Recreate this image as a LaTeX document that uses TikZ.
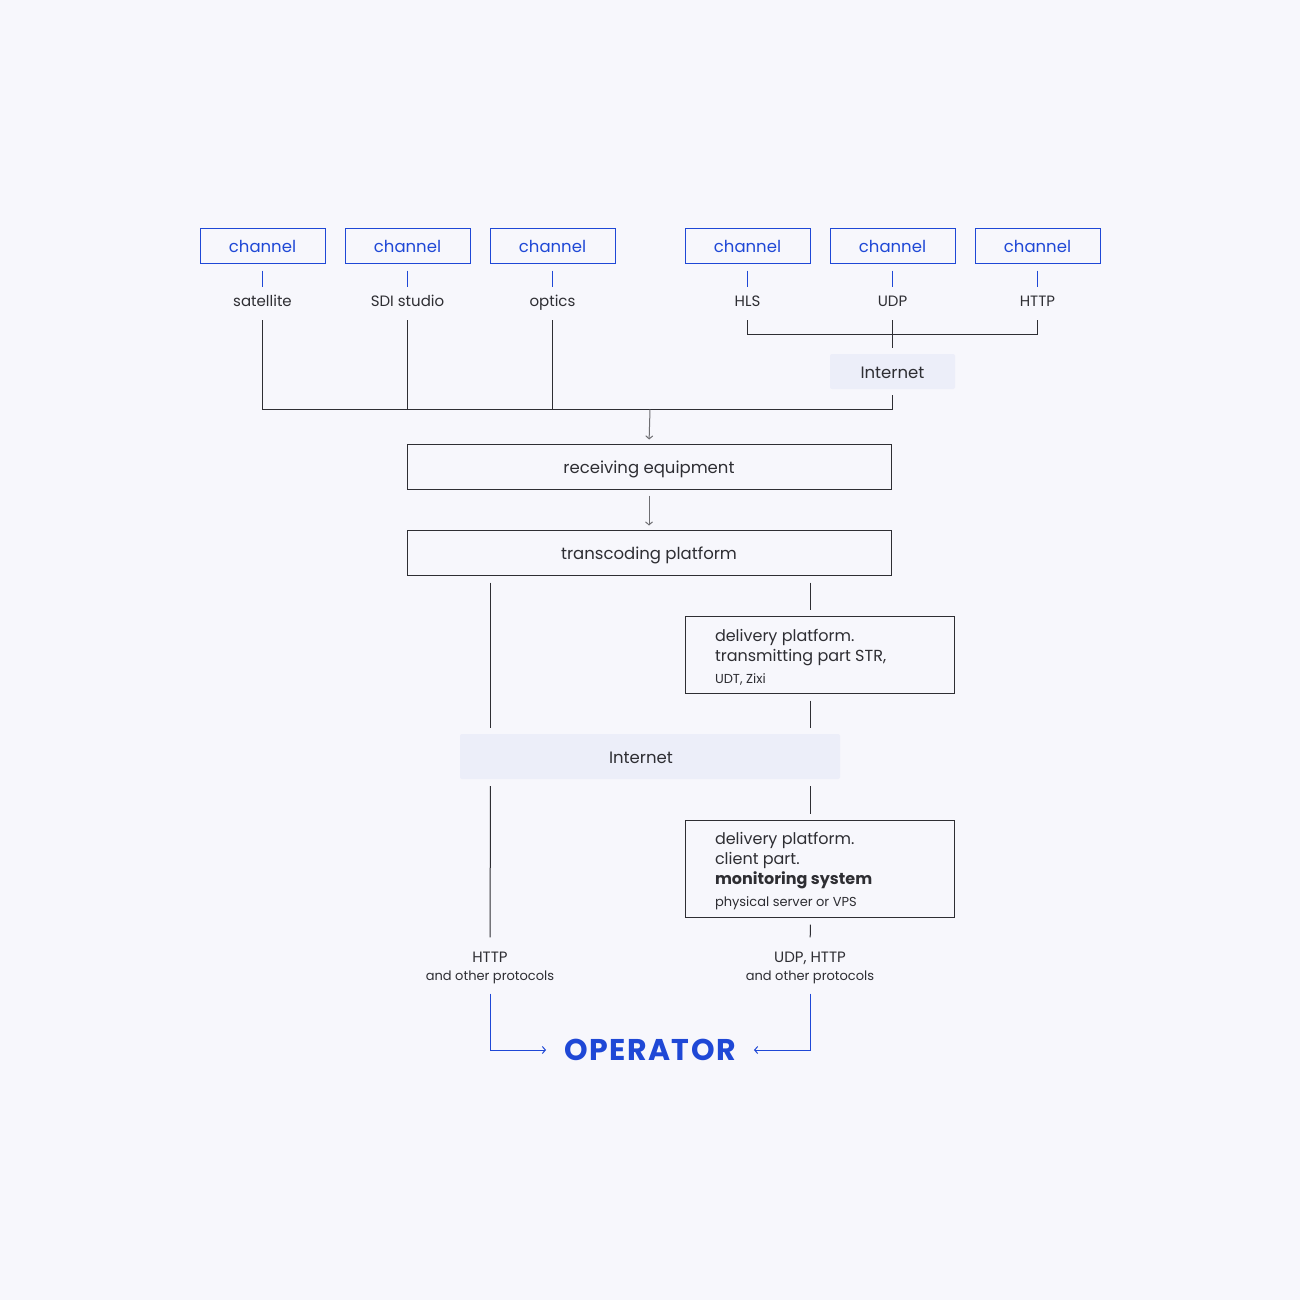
\documentclass[tikz,border=0pt]{standalone}
\usepackage{fontspec}
\setmainfont{Poppins}
\usetikzlibrary{positioning,arrows.meta}
\definecolor{bgcol}{HTML}{F7F7FC}
\definecolor{chblue}{HTML}{1F48D6}
\definecolor{inkcol}{HTML}{2E2E33}
\definecolor{netfill}{HTML}{ECEEF9}
\definecolor{arrgray}{HTML}{6E6E72}
\tikzset{chan box/.style={draw=chblue,line width=1pt,text=chblue,minimum width=125pt,minimum height=35pt,inner sep=0pt,text height=13pt,text depth=0pt,font=\fontsize{16.5}{19}\selectfont},
         src label/.style={text=inkcol,inner sep=0pt,text height=11pt,text depth=3pt,font=\fontsize{15}{17}\selectfont},
         main box/.style={draw=inkcol,line width=1pt,minimum width=484pt,minimum height=45pt,inner sep=0pt,text height=14pt,text depth=0pt,text=inkcol,font=\fontsize{16.5}{19}\selectfont},
         net box/.style={fill=netfill,rounded corners=2pt,inner sep=0pt,text height=13pt,text depth=0pt,text=inkcol,font=\fontsize{16.5}{19}\selectfont},
         info box/.style={draw=inkcol,line width=1pt,minimum width=269pt,inner xsep=30pt,inner ysep=0pt,text width=209pt,align=flush left,text=inkcol,font=\fontsize{16}{20}\selectfont},
         out label/.style={text=inkcol,inner sep=0pt,align=center,font=\fontsize{15}{18}\selectfont},
         tick/.style={chblue,line width=1pt},
         link/.style={inkcol,line width=1pt},
         flow/.style={arrgray,line width=1pt,-{Straight Barb[length=3pt,width=7pt]}},
         deliv/.style={chblue,line width=1pt,-{Straight Barb[length=3pt,width=7pt]}},
}
\newcommand{\smalltext}{\fontsize{13}{16}\selectfont}
\newcommand{\topstrut}{\rule{0pt}{18pt}}
\begin{document}
\begin{tikzpicture}[x=1pt,y=-1pt]
\fill[bgcol] (0,0) rectangle (1300,1300);
\useasboundingbox (0,0) rectangle (1300,1300);

% sources
\node[chan box] (ch1) at (262.5,245.5) {channel};
\node[chan box] (ch2) at (407.5,245.5) {channel};
\node[chan box] (ch3) at (552.5,245.5) {channel};
\node[chan box] (ch4) at (747.5,245.5) {channel};
\node[chan box] (ch5) at (892.5,245.5) {channel};
\node[chan box] (ch6) at (1037.5,245.5) {channel};

\node[src label] (lab1) at (262.5,302) {satellite};
\node[src label] (lab2) at (407.5,302) {SDI studio};
\node[src label] (lab3) at (552.5,302) {optics};
\node[src label] (lab4) at (747.5,302) {HLS};
\node[src label] (lab5) at (892.5,302) {UDP};
\node[src label] (lab6) at (1037.5,302) {HTTP};

\foreach \i in {1,...,6}
  \draw[tick,shorten <=7pt,shorten >=8pt] (ch\i.south) -- (lab\i.north);

\node[net box,minimum width=125pt,minimum height=35pt] (net1) at (892.5,371.5) {Internet};

% main chain
\node[main box] (recv) at (649,466.5) {receiving equipment};
\node[main box] (trans) at (649,552.5) {transcoding platform};

\node[info box,minimum height=77pt] (del1) at (819.5,654.5) {\topstrut delivery platform.\\transmitting part STR,\\[2pt]{\smalltext UDT, Zixi}};
\node[net box,minimum width=380pt,minimum height=45pt] (net2) at (650,756.5) {Internet\hspace*{18pt}};
\node[info box,minimum height=97pt] (del2) at (819.5,868.5) {\topstrut delivery platform.\\client part.\\{\bfseries monitoring system}\\[2pt]{\smalltext physical server or VPS}};

\node[out label] (out1) at (490,967.5) {HTTP\\{\smalltext and other protocols}};
\node[out label] (out2) at (810,967.5) {UDP, HTTP\\{\smalltext and other protocols}};

\node[text=chblue,inner sep=0pt,font=\fontsize{30}{32}\selectfont\bfseries\addfontfeatures{LetterSpace=5}] (op) at (650,1050) {OPERATOR};

\coordinate (bus) at (650,409.5);
\coordinate (busR) at (892.5,334.5);
\coordinate (colL) at (490.5,0);
\coordinate (colR) at (810.5,0);

% connectors
\draw[link,shorten <=11pt,shorten >=6pt] (lab1.south) |- (bus) -| (net1.south);
\draw[link,shorten <=11pt] (lab2.south) -- (lab2.south |- bus);
\draw[link,shorten <=11pt] (lab3.south) -- (lab3.south |- bus);
\draw[link,shorten <=11pt,shorten >=11pt] (lab4.south) |- (busR) -| (lab6.south);
\draw[link,shorten <=11pt,shorten >=6pt] (lab5.south) -- (net1.north);

\draw[flow,shorten >=4pt] (bus) -- (recv.north);
\draw[flow,shorten <=6pt,shorten >=4pt] (recv.south) -- (trans.north);

\draw[link,shorten <=7pt,shorten >=6pt] (trans.south -| colL) -- (net2.north -| colL);
\draw[link,shorten <=7pt,shorten >=6pt] (trans.south -| colR) -- (del1.north -| colR);
\draw[link,shorten <=7pt,shorten >=6pt] (del1.south -| colR) -- (net2.north -| colR);
\draw[link,shorten <=7pt,shorten >=14pt] (net2.south -| colL) -- (out1.north);
\draw[link,shorten <=7pt,shorten >=6pt] (net2.south -| colR) -- (del2.north -| colR);
\draw[link,shorten <=7pt,shorten >=14pt] (del2.south -| colR) -- (out2.north);

\draw[deliv,shorten <=10pt,shorten >=18pt] (out1.south) |- (op.west);
\draw[deliv,shorten <=10pt,shorten >=18pt] (out2.south) |- (op.east);
\end{tikzpicture}
\end{document}
